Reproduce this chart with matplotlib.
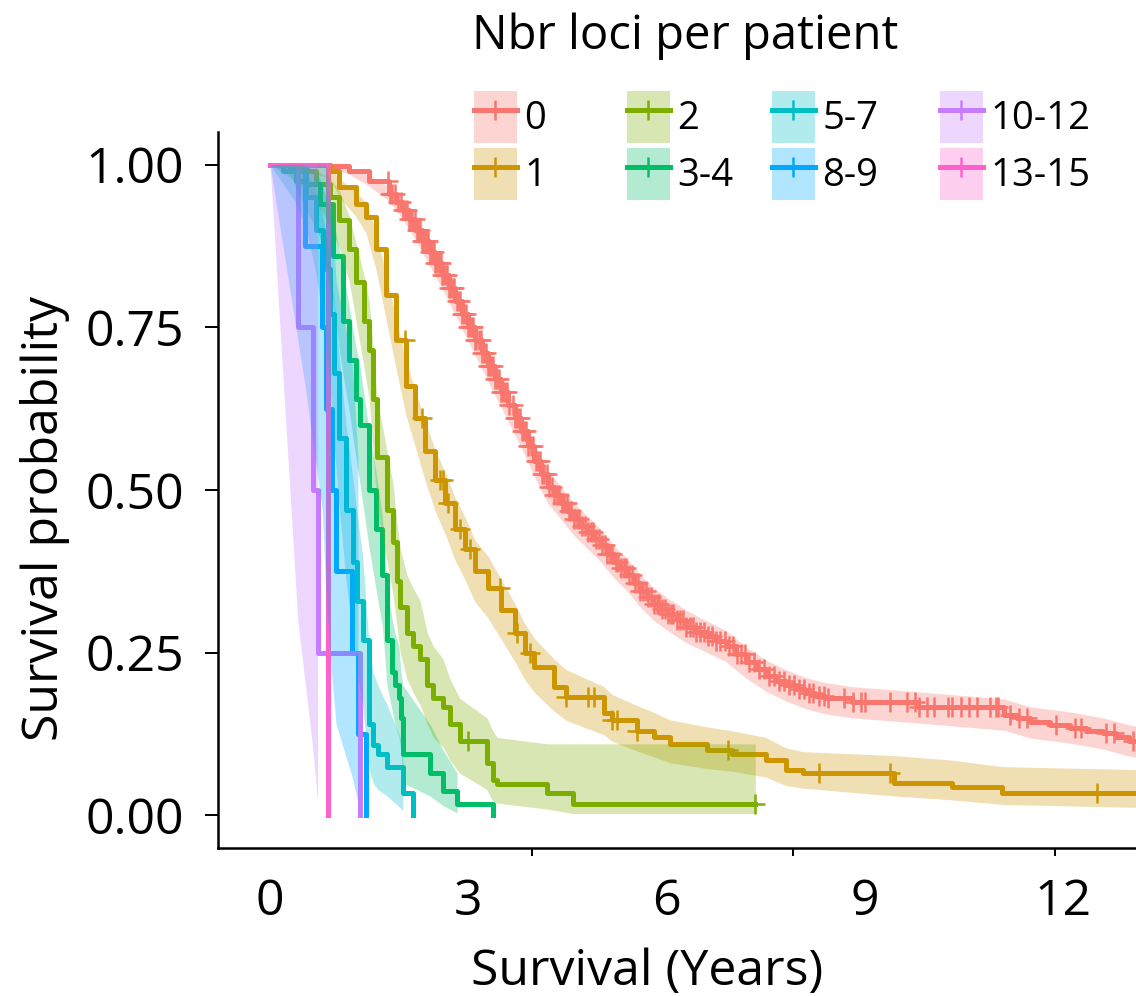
import numpy as np
import matplotlib
matplotlib.use("Agg")
import matplotlib.pyplot as plt
from matplotlib.lines import Line2D
from matplotlib.patches import Patch

plt.rcParams['font.family'] = ['Open Sans', 'DejaVu Sans']

nan = np.nan

# Kaplan-Meier curves (time in years)
groups = ["0", "1", "2", "3-4", "5-7", "8-9", "10-12", "13-15"]
colors = ["#F8766D", "#CD9600", "#7CAE00", "#00BE67", "#00BFC4", "#00A9FF", "#C77CFF", "#FF61CC"]

# group 0: many small steps, band read on a coarser grid
t0 = [0, 0.9, 1.2, 1.5, 1.8, 1.9, 2.0, 2.1, 2.2, 2.3, 2.4, 2.5, 2.6, 2.7, 2.8, 2.9, 3.0, 3.1, 3.2, 3.3,
      3.4, 3.5, 3.6, 3.7, 3.8, 3.9, 4.0, 4.1, 4.2, 4.3, 4.4, 4.5, 4.6, 4.7, 4.8, 4.9, 5.0, 5.1, 5.2, 5.3,
      5.4, 5.5, 5.6, 5.7, 5.8, 5.9, 6.0, 6.15, 6.3, 6.45, 6.6, 6.75, 6.9, 7.05, 7.2, 7.35, 7.5, 7.65,
      7.8, 7.95, 8.1, 8.25, 8.4, 8.8, 9.8, 11.1, 11.3, 11.5, 11.8, 12.1, 12.35, 12.6, 12.8, 13.0, 13.3]
s0 = [1.0, 0.998, 0.99, 0.975, 0.955, 0.943, 0.93, 0.916, 0.9, 0.883, 0.865, 0.848, 0.83, 0.81, 0.79,
      0.77, 0.75, 0.73, 0.71, 0.69, 0.67, 0.65, 0.63, 0.61, 0.59, 0.567, 0.545, 0.524, 0.505, 0.492, 0.48,
      0.467, 0.455, 0.445, 0.435, 0.425, 0.415, 0.402, 0.39, 0.38, 0.37, 0.357, 0.345, 0.335, 0.325,
      0.317, 0.31, 0.3, 0.29, 0.282, 0.275, 0.268, 0.26, 0.248, 0.235, 0.225, 0.215, 0.207, 0.2, 0.194,
      0.188, 0.184, 0.18, 0.174, 0.166, 0.155, 0.149, 0.143, 0.139, 0.135, 0.13, 0.126, 0.12, 0.115, 0.11]
bt0 = [0, 0.9, 1.2, 1.5, 1.8, 2.0, 2.2, 2.4, 2.6, 2.8, 3.0, 3.2, 3.4, 3.6, 3.8, 4.0, 4.2, 4.4, 4.6, 4.8,
       5.0, 5.2, 5.4, 5.6, 5.8, 6.0, 6.3, 6.6, 6.9, 7.2, 7.5, 7.8, 8.1, 8.4, 8.8, 9.8, 11.1, 11.5, 12.1,
       12.6, 13.0, 13.3]
lo0 = [1.0, 0.996, 0.985, 0.967, 0.944, 0.917, 0.884, 0.847, 0.81, 0.769, 0.728, 0.687, 0.646, 0.606,
       0.565, 0.52, 0.48, 0.455, 0.43, 0.41, 0.39, 0.365, 0.345, 0.32, 0.3, 0.285, 0.265, 0.251, 0.236,
       0.211, 0.191, 0.176, 0.164, 0.156, 0.15, 0.142, 0.131, 0.119, 0.111, 0.102, 0.091, 0.086]
hi0 = [1.0, 1.0, 0.995, 0.983, 0.966, 0.943, 0.916, 0.883, 0.85, 0.811, 0.772, 0.733, 0.694, 0.654,
       0.615, 0.57, 0.53, 0.505, 0.48, 0.46, 0.44, 0.415, 0.395, 0.37, 0.35, 0.335, 0.315, 0.299, 0.284,
       0.259, 0.239, 0.224, 0.212, 0.204, 0.198, 0.19, 0.179, 0.167, 0.159, 0.15, 0.139, 0.134]
c0 = [1.78, 1.82, 1.85, 1.89, 1.93, 1.98, 2.01, 2.04, 2.07, 2.1, 2.13, 2.15, 2.19, 2.22, 2.24, 2.27, 2.3,
      2.32, 2.34, 2.37, 2.39, 2.42, 2.45, 2.48, 2.5, 2.53, 2.55, 2.58, 2.6, 2.63, 2.66, 2.68, 2.71, 2.74,
      2.77, 2.79, 2.83, 2.86, 2.88, 2.91, 2.93, 2.97, 3.0, 3.02, 3.05, 3.07, 3.1, 3.12, 3.16, 3.19, 3.21,
      3.24, 3.26, 3.3, 3.33, 3.35, 3.38, 3.41, 3.44, 3.46, 3.5, 3.53, 3.56, 3.59, 3.62, 3.67, 3.7, 3.72,
      3.75, 3.78, 3.81, 3.84, 3.87, 3.9, 3.95, 3.98, 4.02, 4.05, 4.08, 4.12, 4.15, 4.19, 4.22, 4.26, 4.3,
      4.34, 4.37, 4.41, 4.45, 4.49, 4.52, 4.56, 4.6, 4.64, 4.68, 4.72, 4.77, 4.81, 4.85, 4.89, 4.93,
      4.97, 5.02, 5.06, 5.1, 5.14, 5.18, 5.23, 5.27, 5.31, 5.35, 5.39, 5.43, 5.48, 5.52, 5.56, 5.6, 5.64,
      5.68, 5.72, 5.77, 5.81, 5.85, 5.89, 5.93, 5.98, 6.02, 6.06, 6.1, 6.15, 6.2, 6.25, 6.3, 6.35, 6.4,
      6.45, 6.5, 6.56, 6.62, 6.68, 6.75, 6.81, 6.88, 6.94, 7.0, 7.06, 7.12, 7.18, 7.25, 7.32, 7.4, 7.47,
      7.55, 7.62, 7.7, 7.78, 7.85, 7.92, 8.0, 8.08, 8.15, 8.22, 8.3, 8.38, 8.44, 8.68, 8.82, 8.94, 9.0,
      9.38, 9.63, 9.76, 9.82, 9.94, 10.05, 10.26, 10.32, 10.45, 10.57, 10.7, 10.89, 10.98, 11.01, 11.19,
      11.33, 11.45, 11.89, 12.17, 12.27, 12.65, 12.77, 13.06]

t1 = [0, 0.9, 1.05, 1.3, 1.45, 1.6, 1.75, 1.9, 2.05, 2.2, 2.35, 2.5, 2.65, 2.8, 2.95, 3.1, 3.3, 3.5,
      3.7, 3.85, 4.0, 4.3, 4.48, 5.05, 5.17, 5.55, 5.81, 6.05, 6.61, 6.99, 7.5, 7.8, 8.06, 9.44, 10.32,
      11.07, 13.3]
s1 = [1.0, 0.99, 0.965, 0.94, 0.92, 0.87, 0.8, 0.73, 0.66, 0.61, 0.56, 0.515, 0.48, 0.44, 0.41, 0.375,
      0.35, 0.315, 0.28, 0.25, 0.228, 0.197, 0.182, 0.157, 0.146, 0.13, 0.12, 0.11, 0.1, 0.095, 0.085,
      0.07, 0.065, 0.05, 0.043, 0.035, 0.035]
lo1 = [1.0, 0.98, 0.95, 0.92, 0.895, 0.84, 0.765, 0.69, 0.617, 0.565, 0.513, 0.467, 0.432, 0.392, 0.362,
       0.328, 0.303, 0.27, 0.237, 0.209, 0.189, 0.16, 0.146, 0.124, 0.114, 0.099, 0.09, 0.081, 0.072,
       0.068, 0.059, 0.046, 0.042, 0.03, 0.024, 0.017, 0.012]
hi1 = [1.0, 0.997, 0.978, 0.958, 0.942, 0.898, 0.833, 0.767, 0.7, 0.652, 0.604, 0.561, 0.527, 0.488,
       0.458, 0.423, 0.398, 0.362, 0.326, 0.295, 0.272, 0.24, 0.224, 0.198, 0.186, 0.169, 0.158, 0.147,
       0.136, 0.13, 0.12, 0.104, 0.098, 0.092, 0.085, 0.075, 0.07]
c1 = [2.04, 2.3, 2.57, 2.62, 2.69, 2.87, 3.03, 3.48, 3.74, 3.93, 4.48, 4.81, 4.9, 5.17, 5.25, 5.55,
      6.93, 8.3, 9.38, 12.51]

t2 = [0, 0.45, 0.7, 0.9, 1.05, 1.2, 1.3, 1.42, 1.5, 1.56, 1.62, 1.77, 1.86, 1.92, 1.97, 2.07, 2.16,
      2.27, 2.38, 2.47, 2.62, 2.72, 2.87, 3.28, 3.37, 3.43, 4.19, 4.58, 7.34]
s2 = [1.0, 0.99, 0.97, 0.95, 0.915, 0.87, 0.82, 0.76, 0.715, 0.64, 0.55, 0.47, 0.42, 0.36, 0.32, 0.28,
      0.26, 0.24, 0.2, 0.18, 0.166, 0.14, 0.115, 0.08, 0.054, 0.049, 0.034, 0.017, 0.017]
lo2 = [1.0, 0.97, 0.94, 0.91, 0.87, 0.82, 0.76, 0.69, 0.64, 0.56, 0.47, 0.39, 0.34, 0.29, 0.25, 0.21,
       0.19, 0.17, 0.14, 0.12, 0.105, 0.085, 0.065, 0.04, 0.022, 0.019, 0.01, 0.003, 0.003]
hi2 = [1.0, 1.0, 0.99, 0.98, 0.96, 0.92, 0.88, 0.83, 0.79, 0.72, 0.64, 0.56, 0.51, 0.45, 0.41, 0.37,
       0.35, 0.33, 0.28, 0.26, 0.24, 0.21, 0.18, 0.15, 0.13, 0.12, 0.11, 0.11, 0.11]
c2 = [3.0, 7.34]

t34 = [0, 0.3, 0.55, 0.75, 0.95, 1.1, 1.2, 1.3, 1.36, 1.5, 1.6, 1.7, 1.77, 1.85, 1.89, 1.95, 1.98, 2.01,
       2.42, 2.62, 2.83, 3.37]
s34 = [1.0, 0.995, 0.97, 0.94, 0.86, 0.76, 0.7, 0.64, 0.6, 0.5, 0.44, 0.37, 0.27, 0.22, 0.2, 0.18, 0.15,
       0.095, 0.065, 0.038, 0.017, 0.0]
lo34 = [1.0, 0.985, 0.93, 0.89, 0.79, 0.68, 0.62, 0.55, 0.51, 0.41, 0.35, 0.29, 0.2, 0.16, 0.14, 0.12,
        0.1, 0.05, 0.03, 0.015, 0.004, nan]
hi34 = [1.0, 1.0, 1.0, 0.98, 0.92, 0.84, 0.78, 0.72, 0.69, 0.59, 0.53, 0.46, 0.35, 0.3, 0.28, 0.26, 0.22,
        0.2, 0.14, 0.1, 0.065, nan]

t57 = [0, 0.2, 0.4, 0.55, 0.7, 0.8, 0.9, 0.97, 1.05, 1.15, 1.25, 1.32, 1.4, 1.5, 1.56, 1.63, 1.77,
       2.01, 2.16]
s57 = [1.0, 0.99, 0.975, 0.95, 0.9, 0.84, 0.77, 0.68, 0.58, 0.47, 0.39, 0.33, 0.27, 0.14, 0.108, 0.095,
       0.074, 0.034, 0.0]
lo57 = [1.0, 0.97, 0.94, 0.9, 0.83, 0.76, 0.67, 0.57, 0.47, 0.36, 0.28, 0.22, 0.17, 0.07, 0.05, 0.04,
        0.03, 0.008, nan]
hi57 = [1.0, 1.0, 1.0, 0.99, 0.96, 0.92, 0.86, 0.79, 0.7, 0.6, 0.52, 0.46, 0.4, 0.26, 0.22, 0.2, 0.17,
        0.11, nan]

t89 = [0, 0.53, 0.79, 0.85, 0.93, 1.0, 1.24, 1.33, 1.45]
s89 = [1.0, 0.875, 0.75, 0.625, 0.5, 0.375, 0.25, 0.125, 0.0]
lo89 = [1.0, 0.66, 0.47, 0.33, 0.22, 0.14, 0.06, 0.02, nan]
hi89 = [1.0, 1.0, 1.0, 1.0, 0.93, 0.82, 0.7, 0.55, nan]

t1012 = [0, 0.42, 0.65, 0.72, 1.36]
s1012 = [1.0, 0.75, 0.5, 0.25, 0.0]
lo1012 = [1.0, 0.3, 0.1, 0.02, nan]
hi1012 = [1.0, 1.0, 1.0, 1.0, nan]

t1315 = [0, 0.88]
s1315 = [1.0, 0.0]
lo1315 = [1.0, nan]
hi1315 = [1.0, nan]

curves = [
    (t0, s0, bt0, lo0, hi0, c0),
    (t1, s1, t1, lo1, hi1, c1),
    (t2, s2, t2, lo2, hi2, c2),
    (t34, s34, t34, lo34, hi34, []),
    (t57, s57, t57, lo57, hi57, []),
    (t89, s89, t89, lo89, hi89, []),
    (t1012, s1012, t1012, lo1012, hi1012, []),
    (t1315, s1315, t1315, lo1315, hi1315, []),
]

yticks = [0, 0.25, 0.5, 0.75, 1.0]
xticks = [0, 3, 6, 9, 12]
# the axis tick marks in the source sit on a different spacing than the labels
xmarks = [0, 3.96, 7.91, 11.87]

LW = 3.6

fig = plt.figure(figsize=(11.36, 9.96), dpi=100)
ax = fig.add_axes([218 / 1136, 1 - 848 / 996, (1136 - 218) / 1136, (848 - 132) / 996])

for (t, s, bt, lo, hi, cens), col in zip(curves, colors):
    ax.step(t, s, where='post', color=col, lw=LW, zorder=2)
    if cens:
        idx = np.searchsorted(np.array(t), cens, side='right') - 1
        cy = np.array(s)[idx]
        ax.plot(cens, cy, ls='none', marker='+', ms=15, mew=1.8, color=col, zorder=3)

for (t, s, bt, lo, hi, cens), col in zip(curves, colors):
    ax.fill_between(bt, lo, hi, color=col, alpha=0.3, lw=0, zorder=4)

ax.set_xlim(-0.787, 13.1)
ax.set_ylim(-0.05, 1.05)

for side in ['top', 'right']:
    ax.spines[side].set_visible(False)
for side in ['left', 'bottom']:
    ax.spines[side].set_linewidth(1.8)

ax.set_yticks(yticks)
ax.set_yticklabels([f"{v:.2f}" for v in yticks])
ax.tick_params(axis='y', length=9.5, width=1.4, pad=15, labelsize=36, colors='black')

ax.set_xticks(xticks)
ax.set_xticklabels([str(v) for v in xticks])
ax.tick_params(axis='x', which='major', length=0, pad=21, labelsize=36)
ax.set_xticks(xmarks, minor=True)
ax.tick_params(axis='x', which='minor', length=6, width=1.4)

fig.text(647 / 1136, 1 - 985 / 996, "Survival (Years)", ha='center', va='baseline', fontsize=36)
fig.text(45 / 1136, 1 - 518 / 996, "Survival probability", ha='center', va='center',
         rotation=90, fontsize=36)

# legend: title plus four two-row columns
fig.text(472 / 1136, 1 - 49 / 996, "Nbr loci per patient", ha='left', va='baseline', fontsize=34)

handles = []
for col in colors:
    patch = Patch(facecolor=col, alpha=0.3, edgecolor='none')
    line = Line2D([], [], color=col, lw=LW, marker='+', ms=15, mew=1.8)
    handles.append((patch, line))

col_x = [474, 627, 772, 940]
for k, x in enumerate(col_x):
    fig.legend(handles[2 * k:2 * k + 2], groups[2 * k:2 * k + 2], ncol=1, loc='upper left',
               bbox_to_anchor=(x / 1136, 1 - 91 / 996), frameon=False, fontsize=27.5,
               handlelength=1.12, handleheight=1.72, handletextpad=0.2,
               labelspacing=0.13, borderpad=0, borderaxespad=0)

fig.savefig("out.png", dpi=100)
